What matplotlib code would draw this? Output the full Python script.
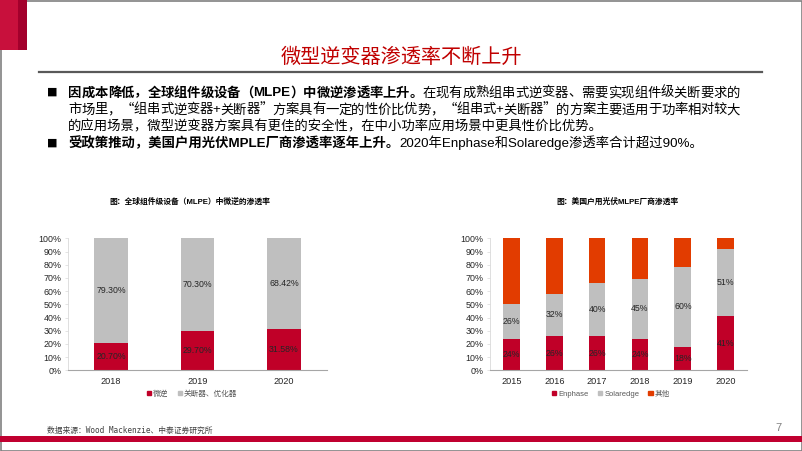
import matplotlib
matplotlib.use("Agg")
import matplotlib.pyplot as plt
from matplotlib.patches import Rectangle, Patch
from matplotlib.lines import Line2D
import numpy as np

# ---------------- data ----------------
years1 = ["2018", "2019", "2020"]
micro_inv = [20.70, 29.70, 31.58]
shutdown_opt = [79.30, 70.30, 68.42]

years2 = ["2015", "2016", "2017", "2018", "2019", "2020"]
enphase = [24, 26, 26, 24, 18, 41]
solaredge = [26, 32, 40, 45, 60, 51]
others = [50, 42, 34, 31, 22, 8]

yticks = list(range(0, 101, 10))

title_text = "微型逆变器渗透率不断上升"
b1_bold = "因成本降低，全球组件级设备（MLPE）中微逆渗透率上升。"
b1_rest = "在现有成熟组串式逆变器、需要实现组件级关断要求的"
b1_line2 = "市场里，“组串式逆变器+关断器”方案具有一定的性价比优势，“组串式+关断器”的方案主要适用于功率相对较大"
b1_line3 = "的应用场景，微型逆变器方案具有更佳的安全性，在中小功率应用场景中更具性价比优势。"
b2_bold = "受政策推动，美国户用光伏MPLE厂商渗透率逐年上升。"
b2_rest = "2020年Enphase和Solaredge渗透率合计超过90%。"
chart1_title = "图：全球组件级设备（MLPE）中微逆的渗透率"
chart2_title = "图：美国户用光伏MLPE厂商渗透率"
legend1 = ["微逆", "关断器、优化器"]
legend2 = ["Enphase", "Solaredge", "其他"]
source_text = "数据来源：Wood Mackenzie、中泰证券研究所"
page_no = "7"

# ---------------- style ----------------
RED = "#C00028"
ORANGE = "#E23C00"
GRAY = "#BFBFBF"
CJK = ["Liberation Sans", "Noto Sans CJK SC"]
CJK_ONLY = ["Noto Sans CJK SC"]
plt.rcParams["font.family"] = CJK

W, H = 802, 451
fig = plt.figure(figsize=(W / 100, H / 100), dpi=100)


def fx(x):
    return x / W


def fy(y):
    return 1 - y / H


# border
fig.add_artist(Rectangle((0.5 / W, 0.5 / H), (W - 1) / W, (H - 1) / H,
                         transform=fig.transFigure, fill=False,
                         edgecolor="#808080", linewidth=1.2))
# top-left red block
fig.add_artist(Rectangle((fx(0), fy(50)), 18 / W, 50 / H, transform=fig.transFigure,
                         facecolor="#C8103C", edgecolor="none"))
fig.add_artist(Rectangle((fx(18), fy(50)), 9 / W, 50 / H, transform=fig.transFigure,
                         facecolor="#A3002C", edgecolor="none"))

# title
fig.text(fx(401), fy(57), title_text, color="#C00000", fontsize=14.5,
         ha="center", va="center", family=CJK)
fig.add_artist(Line2D([fx(39), fx(762)], [fy(72), fy(72)], transform=fig.transFigure,
                      color="#595959", linewidth=1.6))

# bullets
renderer = fig.canvas.get_renderer()
FS = 9.6


def tokenize(txt):
    toks = []
    buf = ""
    for ch in txt:
        if ch.isascii() and (ch.isalnum() or ch in "%."):
            buf += ch
        else:
            if buf:
                toks.append(buf)
                buf = ""
            toks.append(ch)
    if buf:
        toks.append(buf)
    return toks


def fam_for(tok):
    return CJK_ONLY if tok in "“”" else CJK


def measure(s, wt):
    t = fig.text(0, 0, s, fontsize=FS, fontweight=wt, family=fam_for(s))
    w = t.get_window_extent(renderer=renderer).width
    t.remove()
    return w


def draw_line(y, segments, x0=68, x1=None):
    base = y + 4.5
    if x1 is None:
        x = x0
        for txt, wt in segments:
            t = fig.text(fx(x), fy(base), txt, fontsize=FS, fontweight=wt,
                         ha="left", va="baseline", family=CJK, color="#000000")
            x = t.get_window_extent(renderer=renderer).x1
        return
    toks = []
    for txt, wt in segments:
        for tk in tokenize(txt):
            toks.append((tk, wt))
    widths = [measure(tk, wt) for tk, wt in toks]
    extra = ((x1 - x0) - sum(widths)) / (len(toks) - 1)
    x = x0
    for (tk, wt), w in zip(toks, widths):
        fig.text(fx(x), fy(base), tk, fontsize=FS, fontweight=wt, ha="left",
                 va="baseline", family=fam_for(tk), color="#000000")
        x += w + extra


for yb in (92, 143):
    fig.text(fx(52), fy(yb), "■", fontsize=8, ha="center", va="center",
             family=["DejaVu Sans"], color="#000000")
draw_line(92, [(b1_bold, "bold"), (b1_rest, "normal")], x1=740)
draw_line(109, [(b1_line2, "normal")], x1=740)
draw_line(126, [(b1_line3, "normal")])
draw_line(143, [(b2_bold, "bold"), (b2_rest, "normal")])

# chart titles
fig.text(fx(190), fy(202), chart1_title, fontsize=5.6, fontweight="bold",
         ha="center", va="center", family=CJK, color="#000000")
fig.text(fx(617), fy(202), chart2_title, fontsize=5.6, fontweight="bold",
         ha="center", va="center", family=CJK, color="#000000")

TICK_FS = 6.4
LAB_FS = 6.3


def style_axes(ax):
    ax.set_ylim(0, 100)
    ax.set_yticks(yticks)
    ax.set_yticklabels([f"{v}%" for v in yticks])
    for s in ("top", "right"):
        ax.spines[s].set_visible(False)
    ax.spines["left"].set_color("#D9D9D9")
    ax.spines["left"].set_linewidth(0.6)
    ax.spines["bottom"].set_color("#A6A6A6")
    ax.spines["bottom"].set_linewidth(0.8)
    ax.tick_params(axis="y", labelsize=TICK_FS, length=2.5, width=0.5,
                   color="#D9D9D9", pad=2, labelcolor="#262626")
    ax.tick_params(axis="x", labelsize=TICK_FS + 0.2, length=0, pad=5,
                   labelcolor="#262626")
    ax.set_facecolor("none")


# chart 1
ax1 = fig.add_axes([fx(68), fy(370.3), (327 - 68) / W, 132 / H])
x1 = np.arange(len(years1))
ax1.bar(x1, micro_inv, width=0.39, color=RED)
ax1.bar(x1, shutdown_opt, width=0.39, bottom=micro_inv, color=GRAY)
ax1.set_xlim(-0.5, len(years1) - 0.5)
ax1.set_xticks(x1)
ax1.set_xticklabels(years1)
style_axes(ax1)
for i in range(len(years1)):
    ax1.text(x1[i], micro_inv[i] / 2, f"{micro_inv[i]:.2f}%", ha="center",
             va="center", fontsize=LAB_FS, color="#262626")
    ax1.text(x1[i], micro_inv[i] + shutdown_opt[i] / 2, f"{shutdown_opt[i]:.2f}%",
             ha="center", va="center", fontsize=LAB_FS, color="#262626")
h1 = [Patch(color=RED), Patch(color=GRAY)]
ax1.legend(h1, legend1, loc="center", bbox_to_anchor=(fx(192), fy(394)),
           bbox_transform=fig.transFigure, ncol=2, frameon=False,
           fontsize=5.5, handlelength=0.55, handleheight=0.55, handletextpad=0.3,
           columnspacing=1.2, labelcolor="#595959")

# chart 2
ax2 = fig.add_axes([fx(490), fy(370.3), (747 - 490) / W, 132 / H])
x2 = np.arange(len(years2))
ax2.bar(x2, enphase, width=0.39, color=RED)
ax2.bar(x2, solaredge, width=0.39, bottom=enphase, color=GRAY)
bot = [a + b for a, b in zip(enphase, solaredge)]
ax2.bar(x2, others, width=0.39, bottom=bot, color=ORANGE)
ax2.set_xlim(-0.5, len(years2) - 0.5)
ax2.set_xticks(x2)
ax2.set_xticklabels(years2)
style_axes(ax2)
for i in range(len(years2)):
    ax2.text(x2[i], enphase[i] / 2, f"{enphase[i]}%", ha="center", va="center",
             fontsize=LAB_FS, color="#262626")
    ax2.text(x2[i], enphase[i] + solaredge[i] / 2, f"{solaredge[i]}%", ha="center",
             va="center", fontsize=LAB_FS, color="#262626")
h2 = [Patch(color=RED), Patch(color=GRAY), Patch(color=ORANGE)]
ax2.legend(h2, legend2, loc="center", bbox_to_anchor=(fx(611), fy(394)),
           bbox_transform=fig.transFigure, ncol=3, frameon=False,
           fontsize=5.5, handlelength=0.55, handleheight=0.55, handletextpad=0.3,
           columnspacing=1.2, labelcolor="#595959")

# footer
fig.text(fx(47), fy(430), source_text, fontsize=5.6, ha="left", va="center",
         family=["DejaVu Sans Mono", "Noto Sans CJK SC"], color="#404040")
fig.text(fx(778), fy(428), page_no, fontsize=8, ha="center", va="center",
         color="#808080")
fig.add_artist(Rectangle((0, fy(442)), 1, 6 / H, transform=fig.transFigure,
                         facecolor="#C00030", edgecolor="none"))

fig.savefig("out.png", dpi=100)
